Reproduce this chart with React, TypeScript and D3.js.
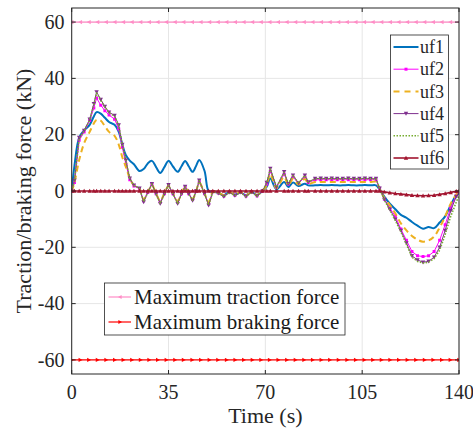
import React from 'react';
import * as d3 from 'd3';

// time axis (s), shared by every series
const time = [
  0, 1, 2.7, 4.5, 6.5, 8, 9, 10.5, 12, 13.5,
  15.5, 17, 18.3, 19.6, 21, 22.5, 24.5, 26, 27.5, 29,
  30.5, 32, 33.5, 35, 36.6, 38.3, 39.7, 41, 42.3, 43.7,
  45, 46.1, 48, 49.5, 51, 53, 55, 57, 59, 61,
  63, 65, 67, 69, 70.5, 71.8, 74, 76.8, 78.3, 80,
  82, 84.3, 85.5, 88, 90, 92, 94, 96, 98, 100,
  102, 104, 106, 108, 110, 111.3, 113, 115, 117, 119,
  121, 123, 125, 127, 129, 131, 133, 135, 137, 139,
  140,
];

// forces (kN)
const uf1 = [
  0, 9, 19, 21.5, 23.5, 26.5, 28, 27.5, 26, 24.5,
  23.5, 21, 16.5, 12.7, 10.8, 9.5, 7.1, 7.8, 9.8, 10.7,
  8.5, 6.4, 8.5, 10.7, 8.7, 6.8, 8.8, 10.7, 8.8, 6.8,
  9, 11, 7.2, 0, -0.3, -0.5, -1.5, -0.3, -1.3, -0.5,
  -1.5, -0.3, -1.4, 0, 1.5, 4.4, 0.6, 3.2, 1.4, 3,
  1.8, 2.6, 2, 2, 2.1, 2, 2.1, 2, 2, 2.1,
  2, 2, 2.1, 2, 2, 0.5, -2, -4.5, -6.5, -8.5,
  -9.5, -11, -12.3, -13.4, -12.8, -13.2, -11.2, -9, -5, -1.5,
  -0.8,
];
const uf2 = [
  0, 3, 18, 21, 25, 29.5, 33, 30.5, 28.5, 27,
  25.5, 22, 15.5, 9.5, 4, 1.8, 0.8, -3.5, -0.5, 2.3,
  -1, -4, -1, 2, -1, -4, -1, 1.4, -1, -3,
  0, 3.3, -1, -4.5, -0.3, -0.7, -1.8, -0.4, -1.5, -0.4,
  -1.8, -0.4, -1.7, 0, 2.5, 7, 1.3, 6, 2.5, 5,
  2.7, 5, 3, 4, 4, 4, 4, 4, 4, 4,
  4, 4, 4, 4, 4, 1, -2.8, -6, -9, -13.5,
  -17.5, -21.5, -23, -23.3, -23, -21.5, -17.5, -12, -6, -1.5,
  -0.5,
];
const uf3 = [
  0, 3, 11, 17, 21, 24, 25.3, 25, 23, 21,
  19.6, 16.5, 12, 8.5, 4.5, 2, 0.8, -3, -0.5, 2,
  -0.8, -3.5, -0.8, 1.8, -0.8, -3.5, -0.8, 1.3, -0.8, -2.8,
  0, 3, -0.8, -4, -0.3, -0.6, -1.5, -0.4, -1.3, -0.4,
  -1.5, -0.4, -1.4, 0, 2, 6, 1, 5, 2, 4.3,
  2.3, 4.3, 2.6, 3.2, 3.2, 3.2, 3.2, 3.2, 3.2, 3.2,
  3.2, 3.2, 3.2, 3.2, 3.2, 0.8, -2.5, -5, -8, -11.5,
  -14, -16, -17.3, -18, -17.6, -16.2, -13, -9, -4.5, -1.3,
  -0.5,
];
const uf4 = [
  0, 3.8, 19, 21.5, 25.5, 31, 35.2, 32.5, 30, 28,
  26.8, 23.4, 16.5, 10.9, 4.5, 2, 1, -3.9, -0.5, 2.6,
  -1, -4.5, -1, 2.2, -1, -4.5, -1, 1.6, -1, -3.4,
  0, 3.8, -1, -5.1, -0.3, -0.8, -2, -0.5, -1.6, -0.5,
  -2, -0.4, -1.8, 0, 3, 8, 1.4, 6.8, 2.6, 5.6,
  2.8, 5.6, 3.2, 4.4, 4.5, 4.4, 4.5, 4.4, 4.4, 4.5,
  4.4, 4.4, 4.5, 4.4, 4.4, 1, -3, -6.5, -10, -14,
  -18.5, -23, -24.5, -25.3, -25, -23.5, -20, -14, -7, -2,
  -0.5,
];
const uf5 = [
  0, 3.5, 18.5, 21.3, 25.2, 30.5, 34.8, 32.2, 29.8, 27.8,
  26.5, 23.2, 16.3, 10.7, 4.4, 2, 1, -3.8, -0.5, 2.5,
  -1, -4.4, -1, 2.1, -1, -4.4, -1, 1.5, -1, -3.3,
  0, 3.7, -1, -5, -0.3, -0.8, -2, -0.5, -1.6, -0.5,
  -2, -0.4, -1.8, 0, 2.9, 7.8, 1.4, 6.6, 2.6, 5.5,
  2.8, 5.5, 3.2, 4.3, 4.4, 4.3, 4.4, 4.3, 4.3, 4.4,
  4.3, 4.3, 4.4, 4.3, 4.3, 1, -3.2, -6.8, -10.5, -14.5,
  -19, -23.5, -25, -25.6, -25.3, -24, -21, -15.5, -9, -4,
  -1.5,
];
const uf6 = [
  0, 0, 0, 0, 0, 0, 0, 0, 0, 0,
  0, 0, 0, 0, 0, 0, 0, 0, 0, 0,
  0, 0, 0, 0, 0, 0, 0, 0, 0, 0,
  0, 0, 0, 0, 0, 0, 0, 0, 0, 0,
  0, 0, 0, 0, 0, 0, 0, 0, 0, 0,
  0, 0, 0, 0, 0, 0, 0, 0, 0, 0,
  0, 0, 0, 0, 0, 0, -0.3, -0.6, -0.9, -1.1,
  -1.3, -1.5, -1.6, -1.7, -1.6, -1.5, -1.2, -0.9, -0.5, -0.1,
  0,
];

const seriesNames = ['uf1', 'uf2', 'uf3', 'uf4', 'uf5', 'uf6'];
const limitNames = ['Maximum traction force', 'Maximum braking force'];
const tractionMax = 60;
const brakingMax = -60;
const xTicks = [0, 35, 70, 105, 140];
const yTicks = [-60, -40, -20, 0, 20, 40, 60];

const W = 473;
const H = 432;
const margin = { top: 8, right: 14, bottom: 58, left: 71.7 };
const FONT = '"Liberation Serif", "Times New Roman", serif';

const markerPath = (type: string, s: number) => {
  if (type === 'square') return `M${-s},${-s}h${2 * s}v${2 * s}h${-2 * s}Z`;
  if (type === 'down') return `M${-s},${-s * 0.8}L${s},${-s * 0.8}L0,${s}Z`;
  if (type === 'up') return `M${-s},${s * 0.8}L${s},${s * 0.8}L0,${-s}Z`;
  if (type === 'left') return `M${s * 0.8},${-s}L${s * 0.8},${s}L${-s},0Z`;
  if (type === 'right') return `M${-s * 0.8},${-s}L${-s * 0.8},${s}L${s},0Z`;
  return '';
};

const App = () => {
  const x = d3.scaleLinear().domain([0, 140]).range([margin.left, W - margin.right]);
  const y = d3.scaleLinear().domain([-65, 65]).range([H - margin.bottom, margin.top]);
  const [x0, x1] = x.range();
  const [y0, y1] = [y(65), y(-65)];

  const series = [
    { name: seriesNames[0], values: uf1, color: '#0072BD', width: 2, dash: '', marker: '', smooth: true },
    { name: seriesNames[1], values: uf2, color: '#FF00FF', width: 1, dash: '', marker: 'square', smooth: false },
    { name: seriesNames[2], values: uf3, color: '#EDB120', width: 2, dash: '6,4', marker: '', smooth: true },
    { name: seriesNames[3], values: uf4, color: '#7E2F8E', width: 1, dash: '', marker: 'down', smooth: false },
    { name: seriesNames[4], values: uf5, color: '#77AC30', width: 1.6, dash: '1.5,1.5', marker: '', smooth: false },
    { name: seriesNames[5], values: uf6, color: '#A2142F', width: 1.6, dash: '', marker: 'up', smooth: false },
  ];

  const makeLine = (smooth: boolean) =>
    d3.line<number>()
      .x((_, i) => x(time[i]))
      .y((d) => y(d))
      .curve(smooth ? d3.curveCatmullRom.alpha(0.5) : d3.curveLinear);

  // markers along the constant limit lines
  const limitMarks = d3.range(0, 140.01, 140 / 45);
  const limits = [
    { name: limitNames[0], value: tractionMax, color: '#FF8CC6', marker: 'left' },
    { name: limitNames[1], value: brakingMax, color: '#FF0000', marker: 'right' },
  ];

  const tickLen = 4;

  return (
    <svg width={W} height={H} style={{ position: 'absolute', left: 0, top: 0, background: '#fff' }} fontFamily={FONT}>
      <defs>
        <clipPath id="plot-clip">
          <rect x={x0} y={y0} width={x1 - x0} height={y1 - y0} />
        </clipPath>
      </defs>
      <rect x={x0} y={y0} width={x1 - x0} height={y1 - y0} fill="#fff" />

      {/* grid */}
      {xTicks.map((t) => (
        <line key={'gx' + t} x1={x(t)} x2={x(t)} y1={y0} y2={y1} stroke="#e6e6e6" strokeWidth={1} />
      ))}
      {yTicks.map((t) => (
        <line key={'gy' + t} x1={x0} x2={x1} y1={y(t)} y2={y(t)} stroke="#e6e6e6" strokeWidth={1} />
      ))}

      <g clipPath="url(#plot-clip)">
        {limits.map((l) => (
          <g key={l.name}>
            <line x1={x0} x2={x1} y1={y(l.value)} y2={y(l.value)} stroke={l.color} strokeWidth={1.2} />
            {limitMarks.map((t, i) => (
              <path key={i} d={markerPath(l.marker, 2.2)} transform={`translate(${x(t)},${y(l.value)})`} fill={l.color} />
            ))}
          </g>
        ))}

        {series.map((s) => (
          <g key={s.name}>
            <path
              d={makeLine(s.smooth)(s.values) || ''}
              fill="none"
              stroke={s.color}
              strokeWidth={s.width}
              strokeDasharray={s.dash || undefined}
              strokeLinejoin="round"
            />
            {s.marker &&
              s.values.map((v, i) => (
                <path
                  key={i}
                  d={markerPath(s.marker, s.marker === 'square' ? 1.5 : 2.2)}
                  transform={`translate(${x(time[i])},${y(v)})`}
                  fill={s.color}
                />
              ))}
          </g>
        ))}
      </g>

      {/* axes box and ticks */}
      <rect x={x0} y={y0} width={x1 - x0} height={y1 - y0} fill="none" stroke="#262626" strokeWidth={1} />
      {xTicks.map((t) => (
        <g key={'tx' + t}>
          <line x1={x(t)} x2={x(t)} y1={y1} y2={y1 - tickLen} stroke="#262626" />
          <line x1={x(t)} x2={x(t)} y1={y0} y2={y0 + tickLen} stroke="#262626" />
          <text x={x(t)} y={399} textAnchor="middle" fontSize={20} fill="#262626">{t}</text>
        </g>
      ))}
      {yTicks.map((t) => (
        <g key={'ty' + t}>
          <line x1={x0} x2={x0 + tickLen} y1={y(t)} y2={y(t)} stroke="#262626" />
          <line x1={x1} x2={x1 - tickLen} y1={y(t)} y2={y(t)} stroke="#262626" />
          <text x={64.5} y={y(t)} dy="0.34em" textAnchor="end" fontSize={20} fill="#262626">{t}</text>
        </g>
      ))}

      <text x={(x0 + x1) / 2} y={423} textAnchor="middle" fontSize={22} fill="#262626">Time (s)</text>
      <text
        transform={`translate(30.5,${(y0 + y1) / 2}) rotate(-90)`}
        textAnchor="middle"
        fontSize={22}
        fill="#262626"
      >
        Traction/braking force (kN)
      </text>

      {/* series legend */}
      <g>
        <rect x={390.5} y={35} width={58} height={134} fill="#fff" stroke="#262626" strokeWidth={0.8} />
        {series.map((s, i) => {
          const ly = 47 + i * 22.2;
          return (
            <g key={'lg' + s.name}>
              <line x1={393.5} x2={418.5} y1={ly} y2={ly} stroke={s.color} strokeWidth={s.width}
                strokeDasharray={s.dash ? (s.dash === '6,4' ? '6,5' : s.dash) : undefined} />
              {s.marker && (
                <path d={markerPath(s.marker, s.marker === 'square' ? 1.5 : 2.2)} transform={`translate(406,${ly})`} fill={s.color} />
              )}
              <text x={420} y={ly} dy="0.34em" fontSize={18} fill="#262626">{s.name}</text>
            </g>
          );
        })}
      </g>

      {/* limit legend */}
      <g>
        <rect x={104.5} y={283} width={240.5} height={52} fill="#fff" stroke="#262626" strokeWidth={0.8} />
        {limits.map((l, i) => {
          const ly = 297 + i * 25;
          return (
            <g key={'ll' + l.name}>
              <line x1={108.5} x2={131} y1={ly} y2={ly} stroke={l.color} strokeWidth={1.2} />
              <path d={markerPath(l.marker, 2)} transform={`translate(120,${ly})`} fill={l.color} />
              <text x={134} y={ly} dy="0.34em" fontSize={21} fill="#1a1a1a">{l.name}</text>
            </g>
          );
        })}
      </g>
    </svg>
  );
};

export default App;
